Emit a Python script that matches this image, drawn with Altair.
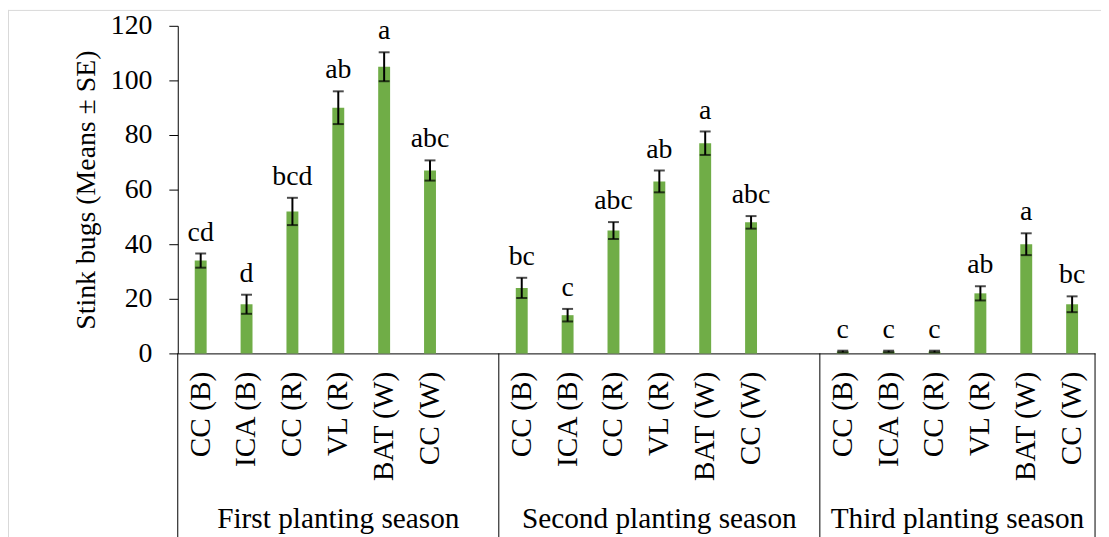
import altair as alt
import pandas as pd

# ---- data ----
seasons = ["First planting season", "Second planting season", "Third planting season"]
treatments = ["CC (B)", "ICA (B)", "CC (R)", "VL (R)", "BAT (W)", "CC (W)"]

means_first = [34, 18, 52, 90, 105, 67]
se_first = [2.6, 3.5, 5.0, 6.0, 5.3, 3.7]
letters_first = ["cd", "d", "bcd", "ab", "a", "abc"]

means_second = [24, 14, 45, 63, 77, 48]
se_second = [3.7, 2.3, 3.1, 4.0, 4.3, 2.3]
letters_second = ["bc", "c", "abc", "ab", "a", "abc"]

means_third = [0.7, 0.7, 0.7, 22, 40, 18]
se_third = [0.3, 0.3, 0.3, 2.6, 4.0, 2.9]
letters_third = ["c", "c", "c", "ab", "a", "bc"]

y_ticks = [0, 20, 40, 60, 80, 100, 120]

FONT = "'Liberation Serif', 'Times New Roman', 'DejaVu Serif', serif"
FS = 28
FS_CAT = 29.5
GREEN = "#70AD47"

# ---- build table ----
rows = []
domain = []
all_means = [means_first, means_second, means_third]
all_se = [se_first, se_second, se_third]
all_letters = [letters_first, letters_second, letters_third]
for g in range(3):
    for i, t in enumerate(treatments):
        key = f"{g + 1}|{t}"
        domain.append(key)
        m = all_means[g][i]
        s = all_se[g][i]
        rows.append({"key": key, "season": seasons[g], "treatment": t, "mean": m,
                     "lo": m - s, "hi": m + s, "letter": all_letters[g][i]})
    if g < 2:
        domain.append(f"gap|{g + 1}")
df = pd.DataFrame(rows)

W, H = 924, 330
xscale = alt.Scale(domain=domain, paddingInner=0, paddingOuter=0)
yscale = alt.Scale(domain=[0, 120], nice=False)

x_axis = alt.Axis(
    title=None, labelAngle=270, labelPadding=18, ticks=False,
    domain=True, domainColor="black", domainWidth=1,
    labelFont=FONT, labelFontSize=FS_CAT, labelColor="black",
    labelOverlap=False, labelLimit=0,
    labelExpr="indexof(datum.label, 'gap') == 0 ? '' : split(datum.label, '|')[1]",
)
y_axis = alt.Axis(
    title="Stink bugs (Means ± SE)", values=y_ticks, grid=False,
    tickSize=9, tickColor="black", domainColor="black",
    labelFont=FONT, labelFontSize=FS, labelColor="black", labelPadding=17,
    titleFont=FONT, titleFontSize=FS, titleFontWeight="normal", titleColor="black",
    titlePadding=10,
)

base = alt.Chart(df)

bars = base.mark_bar(color=GREEN, width=12).encode(
    x=alt.X("key:N", scale=xscale, axis=x_axis, sort=domain),
    y=alt.Y("mean:Q", scale=yscale, axis=y_axis),
)
err = base.mark_rule(color="black", strokeWidth=2).encode(
    x=alt.X("key:N", sort=domain), y="lo:Q", y2="hi:Q"
)
cap_hi = base.mark_tick(color="black", size=11, thickness=2, orient="horizontal").encode(
    x=alt.X("key:N", sort=domain), y="hi:Q"
)
cap_lo = base.mark_tick(color="black", size=11, thickness=2, orient="horizontal").encode(
    x=alt.X("key:N", sort=domain), y="lo:Q"
)
letters = base.mark_text(font=FONT, fontSize=FS, color="black", dy=-13,
                         baseline="alphabetic").encode(
    x=alt.X("key:N", sort=domain), y="hi:Q", text="letter:N"
)

# group separators below the axis
sep_left = pd.DataFrame({"key": [domain[0]]})
sep_right = pd.DataFrame({"key": ["gap|1", "gap|2", domain[-1]]})
rule_left = alt.Chart(sep_left).mark_rule(color="black", strokeWidth=1).encode(
    x=alt.X("key:N", bandPosition=0), y=alt.datum(0), y2=alt.value(530)
)
rule_right = alt.Chart(sep_right).mark_rule(color="black", strokeWidth=1).encode(
    x=alt.X("key:N", bandPosition=1), y=alt.datum(0), y2=alt.value(530)
)

# season labels
g12 = pd.DataFrame({"key": ["1|VL (R)", "2|VL (R)"], "season": seasons[:2]})
g3 = pd.DataFrame({"key": ["3|VL (R)"], "season": [seasons[2]]})
season_12 = alt.Chart(g12).mark_text(font=FONT, fontSize=FS_CAT, color="black",
                                     baseline="alphabetic").encode(
    x=alt.X("key:N", bandPosition=0.5), y=alt.value(506), text="season:N"
)
season_3 = alt.Chart(g3).mark_text(font=FONT, fontSize=FS_CAT, color="black",
                                   baseline="alphabetic").encode(
    x=alt.X("key:N", bandPosition=0), y=alt.value(506), text="season:N"
)

# faint outer frame of the figure
frame_top = alt.Chart(sep_left).mark_rule(color="#d9d9d9", strokeWidth=1).encode(
    x=alt.value(-171), x2=alt.value(935), y=alt.value(-15.5)
)
frame_left = alt.Chart(sep_left).mark_rule(color="#d9d9d9", strokeWidth=1).encode(
    x=alt.value(-170.5), y=alt.value(-16), y2=alt.value(530)
)

chart = alt.layer(
    frame_top, frame_left, bars, err, cap_hi, cap_lo, letters,
    rule_left, rule_right, season_12, season_3,
).properties(
    width=W, height=H,
    autosize=alt.AutoSizeParams(type="none"),
    padding={"left": 171, "top": 16, "right": 6, "bottom": 183},
    background="white",
).configure_view(stroke=None)

chart.save("out.html", embed_options={"renderer": "svg", "actions": False})
